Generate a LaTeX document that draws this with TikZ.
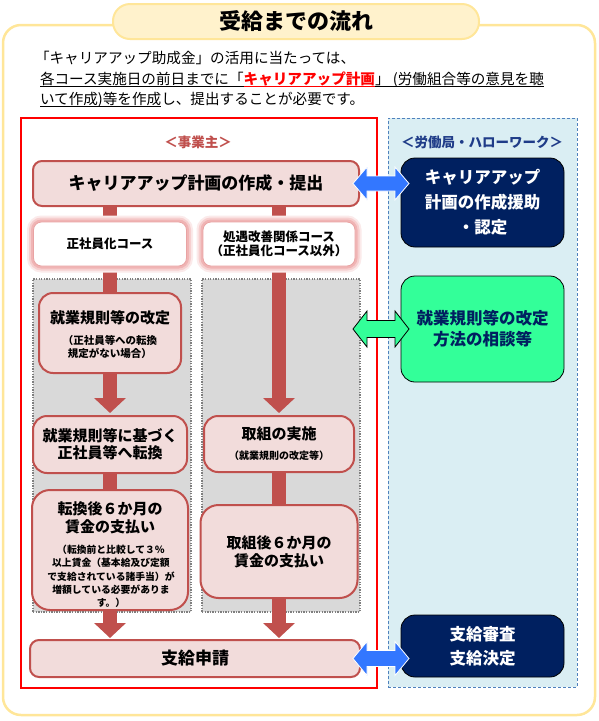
\documentclass[tikz,border=0pt]{standalone}
\usepackage{fontspec}
\setmainfont{Noto Sans CJK JP}
\usetikzlibrary{arrows.meta,calc}
\pgfdeclarelayer{back}
\pgfdeclarelayer{bars}
\pgfsetlayers{back,bars,main}
\newcommand\fsz[2]{\fontsize{#1}{#2}\selectfont}
\newsavebox\ulbox
\newcommand\myul[1]{\sbox\ulbox{#1}\rlap{\rule[-2.6pt]{\wd\ulbox}{0.9pt}}\usebox\ulbox}
\newcommand\dblarrow[6]{%
  \draw[#6] (#1) -- ($(#1)+(#5,-#3)$) -- ($(#1)+(#5,-#4)$) -- ($(#2)+(-#5,-#4)$) -- ($(#2)+(-#5,-#3)$) -- (#2) -- ($(#2)+(-#5,#3)$) -- ($(#2)+(-#5,#4)$) -- ($(#1)+(#5,#4)$) -- ($(#1)+(#5,#3)$) -- cycle;}
\definecolor{frameyel}{HTML}{FFE699}
\definecolor{pillfill}{HTML}{FFF2CC}
\definecolor{boxfill}{HTML}{F2DCDB}
\definecolor{boxline}{HTML}{C0504D}
\definecolor{barred}{HTML}{C0504D}
\definecolor{grayfill}{HTML}{D9D9D9}
\definecolor{grayline}{HTML}{7F7F7F}
\definecolor{bluefill}{HTML}{DAEEF3}
\definecolor{blueline}{HTML}{4F81BD}
\definecolor{navy}{HTML}{002060}
\definecolor{mint}{HTML}{33FF99}
\definecolor{arrowblue}{HTML}{3377FF}
\definecolor{govblue}{HTML}{1F3C88}
\definecolor{empred}{HTML}{C0504D}
\definecolor{glowA}{HTML}{F0B4B4}
\definecolor{glowB}{HTML}{F6CFCF}
\definecolor{glowC}{HTML}{FBEAEA}
\definecolor{glowD}{HTML}{E9A3A3}
\tikzset{
  pinkbox/.style={draw=boxline, fill=boxfill, line width=2pt, rounded corners=14pt},
  pinkflat/.style={pinkbox, rounded corners=9pt},
  coursebox/.style={fill=white, draw=glowD, line width=0.8pt, rounded corners=8pt,
    preaction={draw=glowC, line width=13pt}, preaction={draw=glowB, line width=9pt},
    preaction={draw=glowA, line width=5pt}},
  graybox/.style={fill=grayfill, draw=grayline, line width=1.3pt, dash pattern=on 1.3pt off 1.3pt},
  navybox/.style={fill=navy, draw=black, line width=0.8pt, rounded corners=14pt, text=white},
  mintbox/.style={fill=mint, draw=black, line width=0.8pt, rounded corners=14pt},
  bar/.style={draw=barred, line width=14pt},
  barrow/.style={bar, -{Triangle[width=31pt,length=15pt]}},
}
\begin{document}
\begin{tikzpicture}[x=1pt,y=-1pt, every node/.style={inner sep=0pt, outer sep=0pt}]
\useasboundingbox (0,0) rectangle (598,721);

\begin{pgfonlayer}{back}
  \node[draw=frameyel, fill=white, line width=2.5pt, rounded corners=18pt, minimum width=592pt, minimum height=690pt] (outer) at (299,370) {};
  \node[draw=red, line width=2pt, minimum width=356pt, minimum height=570pt] (empframe) at (199,403) {};
  \node[draw=blueline, fill=bluefill, line width=0.9pt, dash pattern=on 3pt off 2pt, minimum width=189pt, minimum height=569pt] (govframe) at (482.5,402.5) {};
  \node[graybox, minimum width=158pt, minimum height=333pt] (lgray) at (112,445.5) {};
  \node[graybox, minimum width=158pt, minimum height=333pt] (rgray) at (281,445.5) {};
\end{pgfonlayer}

% title
\node[draw=frameyel, fill=pillfill, line width=2pt, rounded corners=17pt, minimum width=366pt, minimum height=35pt, font=\bfseries\fsz{22}{24}] (title) at (296,21.5) {受給までの流れ};

% intro
\node[anchor=base west, font=\fsz{14.6}{18}] (intro1) at (35,63.5) {「キャリアアップ助成金」の活用に当たっては、};
\node[anchor=base west, font=\fsz{14.6}{18}] (intro2) at (40,84.5) {\myul{各コース実施日の前日までに「}\textcolor{red}{\myul{\bfseries キャリアアップ計画}}\myul{」 (労働組合等の意見を聴}};
\node[anchor=base west, font=\fsz{14.6}{18}] (intro3) at (40,104.5) {\myul{いて作成)等を作成}し、提出することが必要です。};

% labels
\node[font=\bfseries\fsz{13.5}{15}, text=empred] (empL) at (198,142) {＜事業主＞};
\node[font=\bfseries\fsz{13.5}{15}, text=govblue] (govL) at (482,142) {＜労働局・ハローワーク＞};

% employer side
\node[pinkflat, minimum width=326pt, minimum height=45pt, font=\bfseries\fsz{17}{20}] (plan) at (196,183.5) {キャリアアップ計画の作成・提出};
\node[coursebox, minimum width=153pt, minimum height=44pt, font=\bfseries\fsz{12.5}{14}] (c1) at (110,244) {正社員化コース};
\node[coursebox, minimum width=152pt, minimum height=44pt, font=\bfseries\fsz{12.5}{14}, align=center] (c2) at (279,244) {処遇改善関係コース\\（正社員化コース以外）};

\node[pinkbox, minimum width=142pt, minimum height=80pt] (rule) at (110,333) {};
\node[font=\bfseries\fsz{15}{18}] (ruleT) at (110,318) {就業規則等の改定};
\node[font=\bfseries\fsz{10.5}{13}, align=center] (ruleS) at (110,346.5) {（正社員等への転換\\規定がない場合）};

\node[pinkbox, minimum width=154pt, minimum height=57pt, font=\bfseries\fsz{15}{17}, align=center] (transfer) at (110,444.5) {就業規則等に基づく\\正社員等へ転換};

\node[pinkbox, rounded corners=18pt, minimum width=156pt, minimum height=120pt] (wage1) at (110,550) {};
\node[font=\bfseries\fsz{15}{18}, align=center] (wage1T) at (110,518) {転換後６か月の\\賃金の支払い};
\node[font=\bfseries\fsz{9.8}{13.25}, align=center] (wage1S) at (111,576.5) {（転換前と比較して３％\\以上賃金（基本給及び定額\\で支給されている諸手当）が\\増額している必要がありま\\す。）};

\node[pinkbox, minimum width=150pt, minimum height=56pt] (impl) at (279,444) {};
\node[font=\bfseries\fsz{15}{18}] (implT) at (279,434) {取組の実施};
\node[font=\bfseries\fsz{10}{12}] (implS) at (279,456) {（就業規則の改定等）};

\node[pinkbox, rounded corners=18pt, minimum width=157pt, minimum height=93pt, font=\bfseries\fsz{15}{18}, align=center] (wage2) at (279,551.5) {取組後６か月の\\賃金の支払い};

\node[pinkflat, minimum width=330pt, minimum height=37pt, font=\bfseries\fsz{17}{20}] (apply) at (195,658.5) {支給申請};

% government side
\node[navybox, minimum width=163pt, minimum height=89pt, font=\bfseries\fsz{16.5}{25}, align=center] (aid) at (482.5,202.5) {キャリアアップ\\計画の作成援助\\・認定};
\node[mintbox, minimum width=163pt, minimum height=106pt, font=\bfseries\fsz{16.5}{21}, align=center, text=navy] (consult) at (482.5,329) {就業規則等の改定\\方法の相談等};
\node[navybox, minimum width=163pt, minimum height=62pt, font=\bfseries\fsz{16.5}{24}, align=center] (judge) at (482.5,646) {支給審査\\支給決定};

% flow bars
\begin{pgfonlayer}{bars}
  \draw[bar] (plan.south -| c1.north) -- (c1.north);
  \draw[bar] (plan.south -| c2.north) -- (c2.north);
  \draw[bar] (c1.south) -- (rule.north);
  \draw[barrow, shorten >=3pt] (rule.south) -- (transfer.north);
  \draw[bar] (transfer.south) -- (wage1.north);
  \draw[barrow, shorten >=2pt] (wage1.south) -- (wage1.south |- apply.north);
  \draw[barrow, shorten >=3pt] (c2.south) -- (impl.north);
  \draw[bar] (impl.south) -- (wage2.north);
  \draw[barrow, shorten >=2pt] (wage2.south) -- (wage2.south |- apply.north);
\end{pgfonlayer}

% double arrows
\coordinate (pl) at ($(plan.east)+(-6,0)$);
\coordinate (pr) at ($(aid.west |- plan.east)+(8,0)$);
\coordinate (gl) at ($(rgray.east |- consult.west)+(-7,0)$);
\coordinate (gr) at ($(consult.west)+(8,0)$);
\coordinate (al) at ($(apply.east)+(-7,0)$);
\coordinate (ar) at ($(judge.west |- apply.east)+(8,0)$);
\dblarrow{pl}{pr}{16.5}{7.5}{14}{fill=arrowblue, draw=white, line width=0.8pt}
\dblarrow{gl}{gr}{18}{8.5}{14}{fill=mint, draw=black, line width=0.8pt}
\dblarrow{al}{ar}{17}{8}{14}{fill=arrowblue, draw=white, line width=0.8pt}
\end{tikzpicture}
\end{document}
